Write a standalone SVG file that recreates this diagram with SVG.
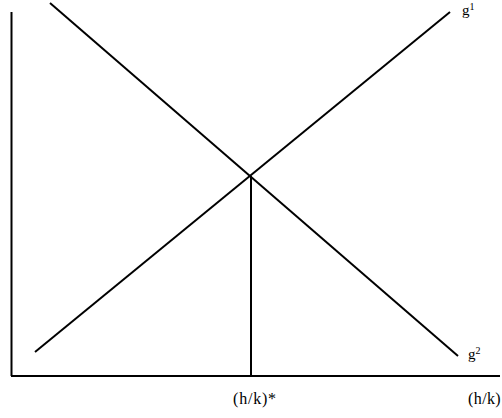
<svg xmlns="http://www.w3.org/2000/svg" width="502" height="418" viewBox="0 0 502 418">
<style>
.ln{stroke:#000;stroke-width:2;fill:none}
.t{font-family:"Liberation Serif","Times New Roman",serif;font-size:16px;fill:#000}
.g{font-size:15px}
.s{font-size:10px}
</style>
<rect width="502" height="418" fill="#fff"/>
<g id="connectors">
<line class="ln" x1="11.5" y1="12" x2="11.5" y2="376"/>
<line class="ln" x1="11" y1="376" x2="500" y2="376"/>
<line class="ln" x1="35" y1="352" x2="450" y2="12"/>
<line class="ln" x1="50" y1="3" x2="458" y2="356"/>
<line class="ln" x1="251" y1="176" x2="251" y2="377"/>
</g>
<g id="g1"><text class="t g" x="462" y="15">g<tspan class="s" dy="-5">1</tspan></text></g>
<g id="g2"><text class="t g" x="468" y="359">g<tspan class="s" dy="-5">2</tspan></text></g>
<g id="hk-star"><text class="t" x="233" y="404" letter-spacing="0.8">(h/k)*</text></g>
<g id="hk"><text class="t" x="468" y="404" letter-spacing="0.4">(h/k)</text></g>
</svg>
